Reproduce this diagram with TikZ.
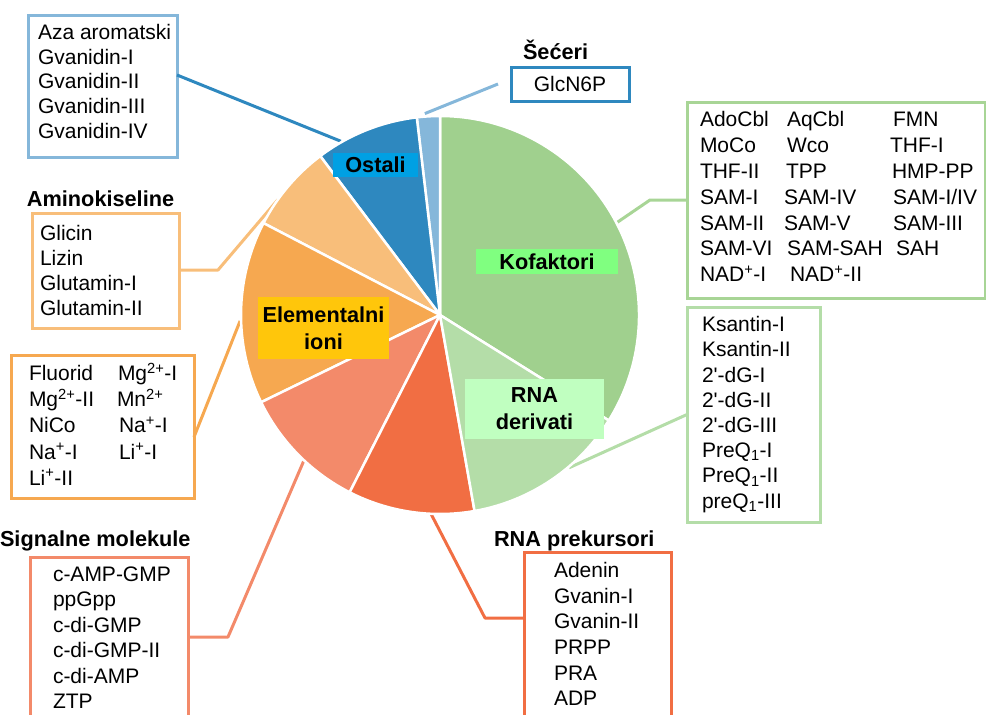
\documentclass[tikz,border=0pt]{standalone}
\usepackage{fontspec}
\setmainfont{Liberation Sans}
\definecolor{cKof}{RGB}{160,208,142}
\definecolor{bKof}{RGB}{168,213,150}
\definecolor{cDer}{RGB}{180,221,168}
\definecolor{cPre}{RGB}{241,110,67}
\definecolor{cSig}{RGB}{243,138,106}
\definecolor{cEle}{RGB}{246,168,80}
\definecolor{cAmi}{RGB}{248,190,122}
\definecolor{cOst}{RGB}{46,136,191}
\definecolor{cSec}{RGB}{133,183,218}
\definecolor{lOst}{RGB}{0,160,227}
\definecolor{lKof}{RGB}{128,255,128}
\definecolor{lEle}{RGB}{255,198,11}
\definecolor{lDer}{RGB}{192,255,192}
\newcommand\bodyfs{\fontsize{21}{25}\selectfont}
\newcommand\boldfs{\fontsize{21.7}{27}\selectfont\bfseries}
\begin{document}
\begin{tikzpicture}[x=1pt,y=1pt,
  txt/.style={font=\bodyfs, anchor=base west, inner sep=0, outer sep=0},
  ttl/.style={font=\boldfs, anchor=base west, inner sep=0, outer sep=0},
  box/.style={draw, line width=3, inner sep=0, outer sep=0, anchor=north west, fill=white},
  conn/.style={line width=3, line join=round},
  lab/.style={font=\boldfs, align=center, inner sep=0, text=black},
  slice/.style={draw=white, line width=2.5, line join=round}]
\useasboundingbox (0,0) rectangle (986,-715);
\clip (0,0) rectangle (986,-715);
\def\pieR{199}
\coordinate (C) at (440,-315);
% pie edge points
\coordinate (pOst) at ([shift={(119.7:200)}]C);
\coordinate (pSec) at ([shift={(94.3:202)}]C);
\coordinate (pKof) at ([shift={(27.6:200)}]C);
\coordinate (pDer) at ([shift={(-49.8:200)}]C);
\coordinate (pPre) at ([shift={(-92.6:199)}]C);
\coordinate (pSig) at ([shift={(-133:200)}]C);
\coordinate (pEle) at ([shift={(181.7:200)}]C);
\coordinate (pAmi) at ([shift={(144.6:199)}]C);
\coordinate (kofBend) at (650,-200);
\coordinate (preBend) at (485,-618);
\coordinate (sigBend) at (228,-637);
\coordinate (amiBend) at (218,-270);

% boxes
\node[box, draw=cSec, minimum width=149, minimum height=142] (ostbox) at (28,-15) {};
\node[box, draw=cOst, minimum width=118, minimum height=34, font=\bodyfs] (glc) at (511,-67) {GlcN6P};
\node[box, draw=bKof, minimum width=298, minimum height=196] (kofbox) at (687,-102) {};
\node[box, draw=cDer, minimum width=133, minimum height=215] (derbox) at (687,-307) {};
\node[box, draw=cAmi, minimum width=147, minimum height=115] (amibox) at (32,-213) {};
\node[box, draw=cEle, minimum width=183, minimum height=143] (elebox) at (11,-355) {};
\node[box, draw=cSig, minimum width=158, minimum height=200] (sigbox) at (30,-557) {};
\node[box, draw=cPre, minimum width=147, minimum height=200] (prebox) at (524,-552) {};

% connectors
\draw[conn, cOst] ([yshift=11]ostbox.east) -- (pOst);
\draw[conn, cSec] ([xshift=-13]glc.west) -- (pSec);
\draw[conn, bKof] (kofbox.west) -- (kofBend) -- (pKof);
\draw[conn, cDer] (derbox.west) -- (pDer);
\draw[conn, cPre] ([yshift=-66]prebox.north west) -- (preBend) -- (pPre);
\draw[conn, cSig] ([yshift=-80]sigbox.north east) -- (sigBend) -- (pSig);
\draw[conn, cEle] ([yshift=-82]elebox.north east) -- (pEle);
\draw[conn, cAmi] ([yshift=-57]amibox.north east) -- (amiBend) -- (pAmi);

% pie
\path[fill=cKof, slice] (C) -- ([shift={(-32:\pieR)}]C) arc[start angle=-32, end angle=90, radius=\pieR] -- cycle;
\path[fill=cSec, slice] (C) -- ([shift={(90:\pieR)}]C) arc[start angle=90, end angle=96.7, radius=\pieR] -- cycle;
\path[fill=cOst, slice] (C) -- ([shift={(96.7:\pieR)}]C) arc[start angle=96.7, end angle=127, radius=\pieR] -- cycle;
\path[fill=cAmi, slice] (C) -- ([shift={(127:\pieR)}]C) arc[start angle=127, end angle=152.5, radius=\pieR] -- cycle;
\path[fill=cEle, slice] (C) -- ([shift={(152.5:\pieR)}]C) arc[start angle=152.5, end angle=206, radius=\pieR] -- cycle;
\path[fill=cSig, slice] (C) -- ([shift={(206:\pieR)}]C) arc[start angle=206, end angle=243, radius=\pieR] -- cycle;
\path[fill=cPre, slice] (C) -- ([shift={(243:\pieR)}]C) arc[start angle=243, end angle=280, radius=\pieR] -- cycle;
\path[fill=cDer, slice] (C) -- ([shift={(280:\pieR)}]C) arc[start angle=280, end angle=328, radius=\pieR] -- cycle;

% pie labels
\node[lab, fill=lOst, minimum width=85, minimum height=24] (lblOst) at (375.5,-165) {Ostali};
\node[lab, fill=lKof, minimum width=142, minimum height=25] (lblKof) at (547,-261.5) {Kofaktori};
\node[lab, fill=lEle, minimum width=131, minimum height=62] (lblEle) at (323.5,-328) {Elementalni\\ioni};
\node[lab, fill=lDer, minimum width=139, minimum height=60] (lblDer) at (534.5,-409) {RNA\\derivati};

% titles
\node[ttl] (tSec) at (523,-59.5) {Šećeri};
\node[ttl] (tAmi) at (27,-206.7) {Aminokiseline};
\node[ttl] (tSig) at (0,-546.7) {Signalne molekule};
\node[ttl] (tPre) at (494,-546.7) {RNA prekursori};

% box texts
\foreach \t [count=\i from 0] in {Aza aromatski, Gvanidin-I, Gvanidin-II, Gvanidin-III, Gvanidin-IV}
  \node[txt] (ost-\i) at (38,{-39.5-24.7*\i}) {\t};
\foreach \x/\r/\t in {700/0/AdoCbl, 787/0/AqCbl, 893/0/FMN,
    700/1/MoCo, 787/1/Wco, 890/1/THF-I,
    700/2/THF-II, 786/2/TPP, 892/2/HMP-PP,
    700/3/SAM-I, 784/3/SAM-IV, 893/3/{SAM-I/IV},
    700/4/SAM-II, 784/4/SAM-V, 893/4/SAM-III,
    700/5/SAM-VI, 787/5/SAM-SAH, 896/5/SAH,
    700/6/{NAD\textsuperscript{+}-I}, 790/6/{NAD\textsuperscript{+}-II}}
  \node[txt] (kof-\r-\x) at (\x,{-126.7-25.83*\r}) {\t};
\foreach \t [count=\i from 0] in {Ksantin-I, Ksantin-II, 2\textquotesingle-dG-I, 2\textquotesingle-dG-II, 2\textquotesingle-dG-III, PreQ\textsubscript{1}-I, PreQ\textsubscript{1}-II, preQ\textsubscript{1}-III}
  \node[txt] (der-\i) at (702,{-331.7-25.2*\i}) {\t};
\foreach \x/\r/\t in {29/0/Fluorid, 118/0/{Mg\textsuperscript{2+}-I},
    29/1/{Mg\textsuperscript{2+}-II}, 117/1/{Mn\textsuperscript{2+}},
    29/2/NiCo, 119/2/{Na\textsuperscript{+}-I},
    29/3/{Na\textsuperscript{+}-I}, 119/3/{Li\textsuperscript{+}-I},
    29/4/{Li\textsuperscript{+}-II}}
  \node[txt] (ele-\r-\x) at (\x,{-380.7-26.1*\r}) {\t};
\foreach \t [count=\i from 0] in {Glicin, Lizin, Glutamin-I, Glutamin-II}
  \node[txt] (ami-\i) at (40,{-240-25*\i}) {\t};
\foreach \t [count=\i from 0] in {c-AMP-GMP, ppGpp, c-di-GMP, c-di-GMP-II, c-di-AMP, ZTP}
  \node[txt] (sig-\i) at (53,{-581-25.5*\i}) {\t};
\foreach \t [count=\i from 0] in {Adenin, Gvanin-I, Gvanin-II, PRPP, PRA, ADP}
  \node[txt] (pre-\i) at (554,{-577.3-25.7*\i}) {\t};
\end{tikzpicture}
\end{document}
